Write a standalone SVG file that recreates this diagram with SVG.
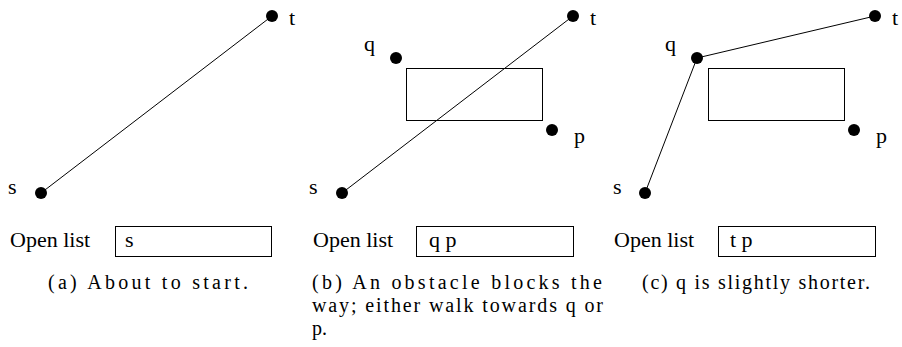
<svg xmlns="http://www.w3.org/2000/svg" width="902" height="347" viewBox="0 0 902 347">
<rect width="902" height="347" fill="#fff"/>
<g id="connectors" stroke="#000" stroke-width="1" fill="none">
<line x1="41" y1="193" x2="272" y2="16"/>
<line x1="342" y1="193" x2="573" y2="16"/>
<line x1="645" y1="193" x2="697" y2="58"/>
<line x1="697" y1="58" x2="875" y2="16"/>
</g>
<g id="obstacles" stroke="#000" stroke-width="1" fill="none">
<rect id="b-obstacle" x="406.5" y="68.5" width="136" height="52"/>
<rect id="c-obstacle" x="708.5" y="68.5" width="136" height="52"/>
</g>
<g id="open-boxes" stroke="#000" stroke-width="1" fill="#fff">
<rect id="a-box" x="115.5" y="226.5" width="156" height="30"/>
<rect id="b-box" x="416.5" y="226.5" width="157" height="30"/>
<rect id="c-box" x="718.5" y="226.5" width="157" height="30"/>
</g>
<g id="nodes" fill="#000">
<circle id="a-s" cx="41" cy="193" r="6"/>
<circle id="a-t" cx="272" cy="16" r="6"/>
<circle id="b-s" cx="342" cy="193" r="6"/>
<circle id="b-t" cx="573" cy="16" r="6"/>
<circle id="b-q" cx="396" cy="58" r="6"/>
<circle id="b-p" cx="552" cy="130" r="6"/>
<circle id="c-s" cx="645" cy="193" r="6"/>
<circle id="c-t" cx="875" cy="16" r="6"/>
<circle id="c-q" cx="697" cy="58" r="6"/>
<circle id="c-p" cx="854" cy="130" r="6"/>
</g>
<g id="labels" font-family="Liberation Serif" font-size="22" fill="#000">
<text x="8" y="194">s</text>
<text x="289" y="25">t</text>
<text x="10" y="247">Open list</text>
<text x="125" y="247">s</text>
<text x="309" y="194">s</text>
<text x="590" y="25">t</text>
<text x="364" y="51">q</text>
<text x="574" y="143">p</text>
<text x="313" y="247">Open list</text>
<text x="429" y="247">q p</text>
<text x="613" y="194">s</text>
<text x="892" y="25">t</text>
<text x="665" y="51">q</text>
<text x="876" y="143">p</text>
<text x="614" y="247">Open list</text>
<text x="730" y="247">t p</text>
</g>
<g id="captions" font-family="Liberation Serif" font-size="20" fill="#000">
<text x="48" y="289" textLength="200" lengthAdjust="spacing">(a) About to start.</text>
<text x="312" y="289" textLength="290" lengthAdjust="spacing">(b) An obstacle blocks the</text>
<text x="312" y="312" textLength="291" lengthAdjust="spacing">way; either walk towards q or</text>
<text x="312" y="335">p.</text>
<text x="642" y="289" textLength="228" lengthAdjust="spacing">(c) q is slightly shorter.</text>
</g>
</svg>
